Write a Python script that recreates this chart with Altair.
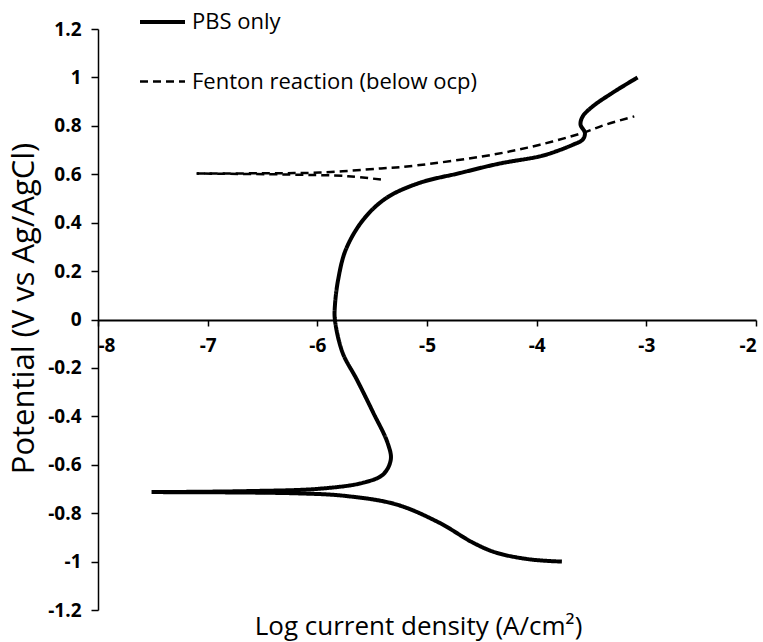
import altair as alt
import pandas as pd

series_names = ["PBS only", "Fenton reaction (below ocp)"]

# PBS only: anodic part (from top end down to the corrosion potential)
pbs_a_x = [-3.08, -3.31, -3.49, -3.58, -3.60, -3.56, -3.58, -3.67, -3.82, -3.97,
           -4.34, -4.70, -5.07, -5.37, -5.58, -5.74, -5.81, -5.84, -5.84, -5.77,
           -5.64, -5.49, -5.36, -5.33, -5.40, -5.58, -5.98, -6.65, -7.51]
pbs_a_y = [1.00, 0.936, 0.880, 0.839, 0.805, 0.771, 0.743, 0.722, 0.695, 0.674,
           0.644, 0.605, 0.564, 0.502, 0.413, 0.289, 0.165, 0.055, 0.0, -0.137,
           -0.248, -0.385, -0.509, -0.578, -0.640, -0.674, -0.699, -0.709, -0.713]
# PBS only: cathodic part
pbs_c_x = [-7.51, -6.19, -5.74, -5.28, -4.89, -4.58, -4.37, -4.06, -3.77]
pbs_c_y = [-0.713, -0.718, -0.729, -0.764, -0.839, -0.922, -0.963, -0.991, -1.000]

# Fenton reaction: lower short branch and upper branch
fen_l_x = [-5.42, -5.72, -6.30, -7.10]
fen_l_y = [0.578, 0.592, 0.599, 0.603]
fen_u_x = [-7.10, -6.50, -5.98, -5.42, -5.16, -4.40, -3.97, -3.58, -3.37, -3.11]
fen_u_y = [0.603, 0.604, 0.607, 0.624, 0.633, 0.681, 0.722, 0.771, 0.805, 0.839]

x_ticks = [-8, -7, -6, -5, -4, -3, -2]
y_ticks = [-1.2, -1.0, -0.8, -0.6, -0.4, -0.2, 0.0, 0.2, 0.4, 0.6, 0.8, 1.0, 1.2]

x_title = "Log current density (A/cm²)"
y_title = "Potential (V vs Ag/AgCl)"

rows = []
def add(series, seg, xs, ys):
    for i, (xv, yv) in enumerate(zip(xs, ys)):
        rows.append({"series": series, "seg": seg, "order": i, "x": xv, "y": yv})

add(series_names[0], "pbs_a", pbs_a_x, pbs_a_y)
add(series_names[0], "pbs_c", pbs_c_x, pbs_c_y)
add(series_names[1], "fen_l", fen_l_x, fen_l_y)
add(series_names[1], "fen_u", fen_u_x, fen_u_y)
df = pd.DataFrame(rows)

FONT = "Open Sans"
label_expr_y = "replace(format(datum.value, '.1~f'), '\u2212', '-')"
label_expr_x = "replace(format(datum.value, 'd'), '\u2212', '-')"

legend_kw = dict(
    title=None, orient="none", legendX=40, legendY=-31.5,
    symbolType="stroke", symbolSize=2025, symbolStrokeColor="black",
    labelFont=FONT, labelFontSize=22, labelColor="black", labelOffset=5,
    rowPadding=24, padding=0, direction="vertical", labelLimit=400,
)

chart = alt.Chart(df).mark_line(interpolate="catmull-rom", color="black").encode(
    x=alt.X("x:Q",
            scale=alt.Scale(domain=[-8, -2], nice=False, zero=False),
            axis=alt.Axis(values=x_ticks, labelExpr=label_expr_x, offset=-290,
                          title=x_title, titleX=320, titleY=314,
                          titleBaseline="alphabetic", titleAnchor="middle",
                          titleFont=FONT, titleFontSize=26, titleFontWeight="normal",
                          titleColor="black",
                          labelFont=FONT, labelFontSize=19, labelFontWeight="bold",
                          labelColor="black", labelPadding=10,
                          tickSize=6, tickColor="black", tickWidth=1.5,
                          domainColor="black", domainWidth=2, grid=False,
                          labelOverlap=False)),
    y=alt.Y("y:Q",
            scale=alt.Scale(domain=[-1.2, 1.2], nice=False, zero=False),
            axis=alt.Axis(values=y_ticks, labelExpr=label_expr_y,
                          title=y_title, titleX=-74, titleY=279, titleAngle=270,
                          titleBaseline="middle", titleAlign="center",
                          titleFont=FONT, titleFontSize=31, titleFontWeight="normal",
                          titleColor="black",
                          labelFont=FONT, labelFontSize=19, labelFontWeight="bold",
                          labelColor="black", labelPadding=10,
                          tickSize=7, tickColor="black", tickWidth=1.5,
                          domainColor="black", domainWidth=1.5, grid=False,
                          labelOverlap=False)),
    strokeDash=alt.StrokeDash("series:N",
                              scale=alt.Scale(domain=series_names, range=[[1, 0], [8, 5]]),
                              legend=alt.Legend(**legend_kw)),
    strokeWidth=alt.StrokeWidth("series:N",
                                scale=alt.Scale(domain=series_names, range=[4, 2.5]),
                                legend=alt.Legend(**legend_kw)),
    detail="seg:N",
    order="order:Q",
).properties(
    width=658, height=581,
    autosize=alt.AutoSizeParams(type="none"),
    padding={"left": 98, "top": 29, "right": 7, "bottom": 32},
    background="white",
).configure_view(stroke=None)

chart.save("out.html", embed_options={"renderer": "svg", "actions": False})
